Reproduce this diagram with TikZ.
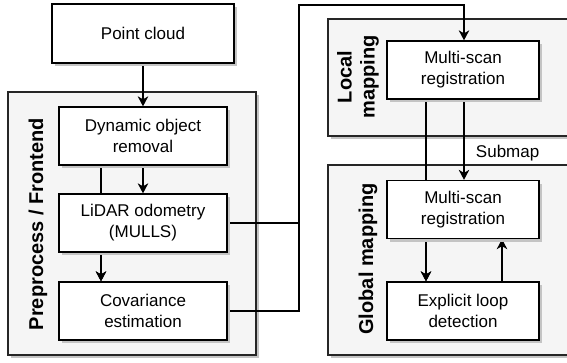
\documentclass[tikz,border=0pt]{standalone}
\usepackage{fontspec}
\setmainfont{Liberation Sans}
\usetikzlibrary{arrows.meta,shadows}

\pgfdeclarelayer{bg}
\pgfdeclarelayer{wires}
\pgfsetlayers{bg,wires,main}

\definecolor{groupfill}{HTML}{F5F5F5}
\definecolor{shadowgray}{HTML}{C4C4C4}

\tikzset{
  shade3/.style={drop shadow={shadow xshift=3pt, shadow yshift=-3pt, fill=shadowgray, opacity=1}},
  box/.style={draw, fill=white, line width=1.3pt, shade3, minimum width=168pt,
    minimum height=58pt, align=center, font=\fontsize{17}{21}\selectfont},
  group/.style={draw=black!85, fill=groupfill, line width=1.3pt, shade3, inner sep=0pt},
  grouplabel/.style={rotate=90, align=center, font=\fontsize{20}{23}\selectfont\bfseries},
  wire/.style={line width=1.3pt},
}

\begin{document}
\begin{tikzpicture}[x=1pt, y=-1pt, >={Stealth[length=10pt, width=10.5pt, inset=3pt]}]
  \useasboundingbox (0,0) rectangle (567,362);

  % 1. The three grey groups and their titles
  \begin{pgfonlayer}{bg}
    \node[group, minimum width=248pt, minimum height=263pt] (front) at (132,223.5) {};
    \node[group, minimum width=246pt, minimum height=117pt] (local) at (451,77.5) {};
    \node[group, minimum width=246pt, minimum height=190pt] (global) at (451,260) {};
  \end{pgfonlayer}
  \node[grouplabel] (frontlabel) at (38,224) {Preprocess / Frontend};
  \node[grouplabel] (locallabel) at (358,77) {Local\\mapping};
  \node[grouplabel] (globallabel) at (368,259) {Global mapping};

  % 2. Boxes
  \node[box, minimum width=182pt, minimum height=59pt] (pc) at (143,33.5) {Point cloud};
  \node[box] (dyn)  at (143,136) {Dynamic object\\removal};
  \node[box] (odom) at (143,223) {LiDAR odometry\\(MULLS)};
  \node[box] (cov)  at (143,311) {Covariance\\estimation};
  \node[box, minimum width=152pt] (lreg) at (463,70)    {Multi-scan\\registration};
  \node[box, minimum width=152pt] (greg) at (463,209.5) {Multi-scan\\registration};
  \node[box, minimum width=152pt] (loop) at (463,311)   {Explicit loop\\detection};

  % 3. Connectors (kept under the boxes)
  \coordinate (join) at (299,223);
  \coordinate (bend) at (299,5);
  \begin{pgfonlayer}{wires}
    \draw[wire, ->] (pc) -- (dyn);
    \draw[wire, ->] (dyn) -- (odom);
    \draw[wire, ->] ([xshift=-42pt]dyn.south) -- ([xshift=-42pt]cov.north);
    \draw[wire, ->] ([xshift=-42pt]odom.south) -- ([xshift=-42pt]cov.north);
    \draw[wire, ->] (odom.east) -- (join) -- (bend) -| ([xshift=1pt]lreg.north);
    \draw[wire] (cov.east) -| (join);
    \draw[wire, ->] ([xshift=1pt]lreg.south) -- ([xshift=1pt]greg.north)
      node[pos=0.67, right=8pt, font=\fontsize{17}{21}\selectfont] (submap) {Submap};
    \draw[wire, ->] ([xshift=-37pt]lreg.south) -- ([xshift=-37pt]loop.north);
    \draw[wire, ->] ([xshift=-37pt]greg.south) -- ([xshift=-37pt]loop.north);
    \draw[wire, ->] ([xshift=39pt]loop.north) -- ([xshift=39pt]greg.south);
  \end{pgfonlayer}

\end{tikzpicture}
\end{document}
